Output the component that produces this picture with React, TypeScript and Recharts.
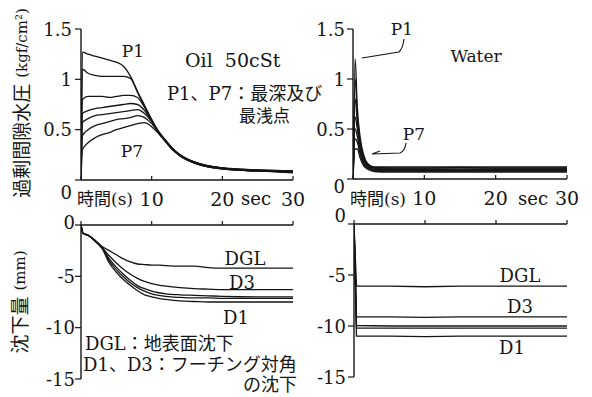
import React from 'react';
import { LineChart, Line, XAxis, YAxis } from 'recharts';

const W = 592;
const H = 397;
const INK = '#151515';
const SERIF = '"DejaVu Serif", "Noto Sans CJK JP", serif';

// --- excess pore water pressure, oil 50cSt (kgf/cm2) ---
const OIL_TIME = [0, 0.2, 1, 2, 3, 4, 5, 6, 7, 8, 9, 10, 11, 12, 13, 14, 16, 18, 20, 22, 25, 30];
const OIL_P1 = [0, 1.27, 1.25, 1.23, 1.21, 1.19, 1.17, 1.13, 1.03, 0.88, 0.74, 0.6, 0.47, 0.38, 0.3, 0.25, 0.18, 0.14, 0.12, 0.11, 0.1, 0.09];
const OIL_P2 = [0, 1.1, 1.06, 1.04, 1.03, 1.03, 1.03, 1.03, 1.01, 0.87, 0.73, 0.6, 0.47, 0.38, 0.3, 0.24, 0.18, 0.14, 0.12, 0.11, 0.1, 0.09];
const OIL_P3 = [0, 0.8, 0.83, 0.83, 0.83, 0.82, 0.83, 0.84, 0.84, 0.82, 0.72, 0.59, 0.47, 0.38, 0.3, 0.24, 0.17, 0.14, 0.12, 0.1, 0.09, 0.08];
const OIL_P4 = [0, 0.66, 0.69, 0.71, 0.72, 0.73, 0.74, 0.75, 0.76, 0.75, 0.69, 0.59, 0.48, 0.39, 0.31, 0.25, 0.18, 0.14, 0.12, 0.1, 0.09, 0.08];
const OIL_P5 = [0, 0.57, 0.61, 0.64, 0.65, 0.66, 0.67, 0.68, 0.69, 0.7, 0.66, 0.58, 0.48, 0.39, 0.31, 0.25, 0.17, 0.13, 0.11, 0.1, 0.09, 0.08];
const OIL_P6 = [0, 0.44, 0.5, 0.54, 0.56, 0.58, 0.6, 0.61, 0.62, 0.64, 0.62, 0.56, 0.47, 0.39, 0.31, 0.24, 0.17, 0.13, 0.11, 0.1, 0.09, 0.08];
const OIL_P7 = [0, 0.3, 0.37, 0.42, 0.45, 0.47, 0.5, 0.52, 0.54, 0.56, 0.57, 0.53, 0.46, 0.38, 0.3, 0.24, 0.17, 0.13, 0.11, 0.1, 0.09, 0.07];

// --- excess pore water pressure, water ---
const WAT_TIME = [0, 0.3, 0.6, 1, 1.5, 2, 3, 5, 10, 15, 20, 25, 30];
const WAT_P1 = [0, 1.2, 0.72, 0.42, 0.24, 0.16, 0.12, 0.12, 0.12, 0.12, 0.12, 0.12, 0.12];
const WAT_P2 = [0, 1.0, 0.64, 0.38, 0.22, 0.15, 0.115, 0.11, 0.11, 0.115, 0.11, 0.11, 0.11];
const WAT_P3 = [0, 0.8, 0.57, 0.35, 0.2, 0.14, 0.11, 0.1, 0.1, 0.1, 0.1, 0.1, 0.1];
const WAT_P4 = [0, 0.62, 0.5, 0.31, 0.18, 0.13, 0.1, 0.095, 0.095, 0.09, 0.095, 0.095, 0.095];
const WAT_P5 = [0, 0.5, 0.43, 0.28, 0.16, 0.12, 0.09, 0.085, 0.085, 0.085, 0.085, 0.085, 0.085];
const WAT_P6 = [0, 0.4, 0.37, 0.25, 0.15, 0.11, 0.085, 0.08, 0.08, 0.08, 0.08, 0.08, 0.08];
const WAT_P7 = [0, 0.3, 0.3, 0.21, 0.13, 0.1, 0.075, 0.07, 0.07, 0.07, 0.07, 0.07, 0.07];

// --- settlement, oil (mm) ---
const SET_TIME = [0, 0.3, 1, 2, 3, 4, 5, 6, 7, 8, 9, 10, 11, 12, 14, 16, 18, 20, 25, 30];
const SET_DGL = [0, -0.8, -1.0, -1.5, -2.1, -2.5, -2.9, -3.3, -3.6, -3.8, -3.85, -3.9, -3.9, -3.95, -4.0, -4.0, -4.15, -4.2, -4.2, -4.2];
const SET_D3 = [0, -0.8, -1.0, -1.5, -2.2, -3.0, -3.7, -4.3, -4.8, -5.2, -5.5, -5.7, -5.85, -5.95, -6.1, -6.2, -6.25, -6.3, -6.3, -6.3];
const SET_D2 = [0, -0.8, -1.0, -1.5, -2.2, -3.3, -4.1, -4.8, -5.4, -5.9, -6.2, -6.45, -6.6, -6.7, -6.8, -6.85, -6.9, -6.95, -7.0, -7.0];
const SET_D4 = [0, -0.8, -1.0, -1.55, -2.25, -3.5, -4.35, -5.05, -5.65, -6.1, -6.45, -6.7, -6.85, -6.95, -7.05, -7.1, -7.1, -7.15, -7.15, -7.15];
const SET_D1 = [0, -0.8, -1.0, -1.6, -2.3, -3.7, -4.6, -5.3, -5.9, -6.4, -6.8, -7.0, -7.15, -7.25, -7.4, -7.45, -7.5, -7.5, -7.5, -7.5];

// --- settlement, water (mm) ---
const WSET_TIME = [0, 0.35, 5, 10, 15, 20, 25, 30];
const WSET_DGL = [0, -6.1, -6.1, -6.15, -6.1, -6.1, -6.1, -6.1];
const WSET_D3 = [0, -9.1, -9.1, -9.15, -9.1, -9.1, -9.1, -9.1];
const WSET_D2 = [0, -9.95, -10.0, -10.0, -10.0, -10.0, -10.0, -10.0];
const WSET_D4 = [0, -10.2, -10.2, -10.2, -10.2, -10.2, -10.2, -10.2];
const WSET_D1 = [0, -11.0, -11.0, -11.05, -11.0, -11.0, -11.0, -11.0];

const X_TICKS = [0, 10, 20, 30];
const PRESSURE_TICKS = [0, 0.5, 1, 1.5];
const SETTLE_TICKS = [-15, -10, -5, 0];

const toRows = (time: number[], series: number[][]) =>
  time.map((t, i) => {
    const row: Record<string, number> = { t };
    series.forEach((s, j) => (row[`s${j}`] = s[i]));
    return row;
  });

const oilRows = toRows(OIL_TIME, [OIL_P1, OIL_P2, OIL_P3, OIL_P4, OIL_P5, OIL_P6, OIL_P7]);
const watRows = toRows(WAT_TIME, [WAT_P1, WAT_P2, WAT_P3, WAT_P4, WAT_P5, WAT_P6, WAT_P7]);
const setRows = toRows(SET_TIME, [SET_DGL, SET_D3, SET_D2, SET_D4, SET_D1]);
const wsetRows = toRows(WSET_TIME, [WSET_DGL, WSET_D3, WSET_D2, WSET_D4, WSET_D1]);

const XTick = ({ x, y, payload, showLabel }: any) => (
  <g>
    <line x1={x} x2={x} y1={y} y2={y - 4} stroke={INK} strokeWidth={1.2} />
    {showLabel && payload.value !== 0 && (
      <text x={x} y={y + 26} textAnchor="middle" fontFamily={SERIF} fontSize={19} fill={INK}>
        {payload.value}
      </text>
    )}
  </g>
);

const YTick = ({ x, y, payload, zeroDy, gap }: any) => (
  <g>
    <line x1={x} x2={x - 6} y1={y} y2={y} stroke={INK} strokeWidth={1.2} />
    <text
      x={x - gap}
      y={y + (payload.value === 0 ? zeroDy : 6.5)}
      textAnchor="end"
      fontFamily={SERIF}
      fontSize={18}
      fill={INK}
    >
      {String(payload.value)}
    </text>
  </g>
);

type Box = { left: number; right: number; top: number; bottom: number };

type PanelProps = {
  rows: Record<string, number>[];
  count: number;
  box: Box; // plot area in page pixels
  yDomain: [number, number];
  yTicks: number[];
  xTop?: boolean;
  zeroDy: number;
  gap: number;
  curve: 'monotone' | 'linear';
};

// axes are 1px thick, so the margins leave room for them
const Panel = ({ rows, count, box, yDomain, yTicks, xTop, zeroDy, gap, curve }: PanelProps) => {
  const margin = {
    left: box.left - 1,
    right: W - box.right,
    top: xTop ? box.top - 1 : box.top,
    bottom: xTop ? H - box.bottom : H - box.bottom - 1,
  };
  return (
    <div style={{ position: 'absolute', left: 0, top: 0 }}>
      <LineChart width={W} height={H} data={rows} margin={margin} style={{ overflow: 'visible' }}>
        <XAxis
          dataKey="t"
          type="number"
          domain={[0, 30]}
          ticks={X_TICKS}
          interval={0}
          orientation={xTop ? 'top' : 'bottom'}
          height={1}
          tickSize={0}
          tickMargin={0}
          tickLine={false}
          axisLine={{ stroke: INK, strokeWidth: 1.4 }}
          tick={(p: any) => <XTick {...p} showLabel={!xTop} />}
          allowDataOverflow
        />
        <YAxis
          type="number"
          domain={yDomain}
          ticks={yTicks}
          interval={0}
          width={1}
          tickSize={0}
          tickMargin={0}
          tickLine={false}
          axisLine={{ stroke: INK, strokeWidth: 1.4 }}
          tick={(p: any) => <YTick {...p} zeroDy={zeroDy} gap={gap} />}
          allowDataOverflow
        />
        {Array.from({ length: count }, (_, i) => (
          <Line
            key={i}
            dataKey={`s${i}`}
            type={curve}
            stroke={INK}
            strokeWidth={1.3}
            dot={false}
            isAnimationActive={false}
          />
        ))}
      </LineChart>
    </div>
  );
};

const T = ({ x, y, size = 18, anchor = 'start', children }: any) => (
  <text
    x={x}
    y={y}
    fontSize={size}
    textAnchor={anchor}
    fontFamily={SERIF}
    fill={INK}
    style={{ whiteSpace: 'pre' }}
  >
    {children}
  </text>
);

const Notes = () => (
  <svg width={W} height={H} style={{ position: 'absolute', left: 0, top: 0 }}>
    {/* rotated axis titles */}
    <text
      x={22}
      y={103}
      transform="rotate(-90 22 103)"
      textAnchor="middle"
      dominantBaseline="central"
      fontFamily={SERIF}
      fill={INK}
    >
      <tspan fontSize={19}>過剰間隙水圧</tspan>
      <tspan fontSize={15} dx={6}>(kgf/cm²)</tspan>
    </text>
    <text
      x={20}
      y={302}
      transform="rotate(-90 20 302)"
      textAnchor="middle"
      dominantBaseline="central"
      fontFamily={SERIF}
      fill={INK}
    >
      <tspan fontSize={19}>沈下量</tspan>
      <tspan fontSize={15} dx={6}>(mm)</tspan>
    </text>

    {/* top left */}
    <T x={133} y={57} size={17} anchor="middle">P1</T>
    <T x={185} y={67} size={19}>{'Oil  50cSt'}</T>
    <T x={167} y={100} size={18}>P1、P7：最深及び</T>
    <T x={290} y={122} size={17} anchor="end">最浅点</T>
    <T x={132} y={157} size={17} anchor="middle">P7</T>

    {/* top right */}
    <T x={402} y={35} size={17} anchor="middle">P1</T>
    <path d="M404 39 Q403 48 399 52 L362 58" fill="none" stroke={INK} strokeWidth={1.1} />
    <T x={476} y={62} size={17} anchor="middle">Water</T>
    <T x={414} y={140} size={17} anchor="middle">P7</T>
    <path d="M406 143 Q405 151 400 153 L372 154 M372 154 L380 151" fill="none" stroke={INK} strokeWidth={1.1} />

    {/* shared x labels */}
    <T x={77} y={205} size={17}>時間(s)</T>
    <T x={256} y={205} size={18} anchor="middle">sec</T>
    <T x={350} y={205} size={17}>時間(s)</T>
    <T x={533} y={205} size={18} anchor="middle">sec</T>

    {/* bottom left */}
    <T x={245} y={265} anchor="middle">DGL</T>
    <T x={242} y={289} anchor="middle">D3</T>
    <T x={236} y={324} anchor="middle">D1</T>
    <T x={85} y={350}>DGL：地表面沈下</T>
    <T x={83} y={371}>D1、D3：フーチング対角</T>
    <T x={297} y={391} anchor="end">の沈下</T>

    {/* bottom right */}
    <T x={520} y={282} anchor="middle">DGL</T>
    <T x={520} y={313} anchor="middle">D3</T>
    <T x={512} y={354} anchor="middle">D1</T>
  </svg>
);

export default function App() {
  return (
    <div style={{ position: 'absolute', left: 0, top: 0, width: W, height: H, background: '#fff' }}>
      <Panel
        rows={oilRows}
        count={7}
        box={{ left: 81, right: 293, top: 29, bottom: 180 }}
        yDomain={[0, 1.5]}
        yTicks={PRESSURE_TICKS}
        zeroDy={19}
        gap={9}
        curve="monotone"
      />
      <Panel
        rows={watRows}
        count={7}
        box={{ left: 353, right: 567, top: 29, bottom: 179 }}
        yDomain={[0, 1.5]}
        yTicks={PRESSURE_TICKS}
        zeroDy={14}
        gap={8}
        curve="monotone"
      />
      <Panel
        rows={setRows}
        count={5}
        box={{ left: 81, right: 293, top: 225, bottom: 379 }}
        yDomain={[-15, 0]}
        yTicks={SETTLE_TICKS}
        xTop
        zeroDy={4}
        gap={6}
        curve="monotone"
      />
      <Panel
        rows={wsetRows}
        count={5}
        box={{ left: 354, right: 567, top: 224, bottom: 377 }}
        yDomain={[-15, 0]}
        yTicks={SETTLE_TICKS}
        xTop
        zeroDy={-2}
        gap={8}
        curve="linear"
      />
      <Notes />
    </div>
  );
}
